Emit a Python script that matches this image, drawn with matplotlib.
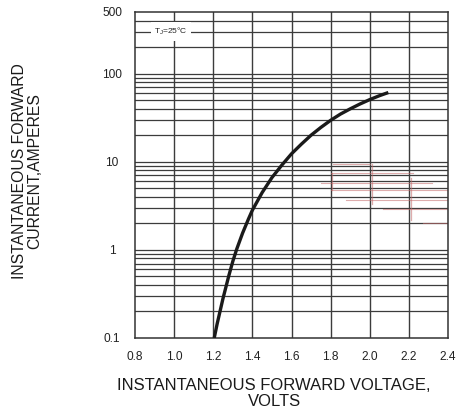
import matplotlib
matplotlib.use("Agg")
import matplotlib.pyplot as plt
from matplotlib.ticker import FixedLocator, NullFormatter

plt.rcParams['font.family'] = ['Liberation Sans', 'DejaVu Sans']

# Curve data
voltage = [1.205, 1.22, 1.25, 1.28, 1.30, 1.32, 1.35, 1.38, 1.40, 1.45, 1.50, 1.55,
           1.60, 1.65, 1.70, 1.75, 1.80, 1.85, 1.90, 1.95, 2.00, 2.05, 2.095]
current = [0.10, 0.145, 0.282, 0.513, 0.741, 1.02, 1.55, 2.24, 2.82, 4.47, 6.61, 9.12,
           12.3, 15.8, 20.0, 24.5, 29.5, 34.7, 39.8, 45.2, 50.7, 56.2, 61.0]

x_ticks = [0.8, 1.0, 1.2, 1.4, 1.6, 1.8, 2.0, 2.2, 2.4]
x_labels = ["0.8", "1.0", "1.2", "1.4", "1.6", "1.8", "2.0", "2.2", "2.4"]
y_ticks = [0.1, 1, 10, 100, 500]
y_labels = ["0.1", "1", "10", "100", "500"]
y_minor = [0.2, 0.3, 0.4, 0.5, 0.6, 0.7, 0.8, 0.9,
           2, 3, 4, 5, 6, 7, 8, 9,
           20, 30, 40, 50, 60, 70, 80, 90,
           200, 300, 400]

# faint red scan artefacts (horizontal: value, x start, x end)
red_h_val = [9.4, 7.5, 5.7, 4.8, 3.7, 2.9, 2.0]
red_h_x0 = [1.81, 1.80, 1.75, 1.80, 1.88, 2.07, 2.27]
red_h_x1 = [2.00, 2.22, 2.32, 2.40, 2.40, 2.40, 2.40]
# vertical: x, value low, value high
red_v_x = [1.806, 2.01, 2.21, 2.40, 2.40]
red_v_lo = [4.8, 3.3, 2.2, 1.6, 113]
red_v_hi = [7.5, 9.4, 6.5, 5.0, 167]

fig = plt.figure(figsize=(4.62, 4.16), dpi=100)
ax = fig.add_axes([135/462, 1-338/416, (448-135)/462, (338-12)/416])
ax.set_yscale('log')
ax.set_xlim(0.8, 2.4)
ax.set_ylim(0.1, 500)

grid_c = '#3c3c3c'
for xv in x_ticks[1:-1]:
    ax.axvline(xv, color=grid_c, lw=1.0, zorder=1)
for yv in y_ticks[1:-1] + y_minor:
    ax.axhline(yv, color=grid_c, lw=0.9, zorder=1)

for v, a, b in zip(red_h_val, red_h_x0, red_h_x1):
    ax.plot([a, b], [v, v], color='#c46a6a', lw=0.8, alpha=0.55, zorder=1.5)
for xv, lo, hi in zip(red_v_x, red_v_lo, red_v_hi):
    ax.plot([xv, xv], [lo, hi], color='#c46a6a', lw=0.9, alpha=0.55, zorder=1.5)

ax.plot(voltage, current, color='#1a1a1a', lw=2.4, zorder=3,
        solid_capstyle='butt', solid_joinstyle='round')

ax.text(0.985, 300, "T$_\\mathregular{J}$=25°C", fontsize=6, ha='center', va='center',
        color='#222222', zorder=4,
        bbox=dict(facecolor='white', edgecolor='none', pad=2.5))

ax.xaxis.set_major_locator(FixedLocator(x_ticks))
ax.set_xticklabels(x_labels)
ax.yaxis.set_major_locator(FixedLocator(y_ticks))
ax.set_yticklabels(y_labels, ha='center')
ax.yaxis.set_minor_locator(FixedLocator(y_minor))
ax.yaxis.set_minor_formatter(NullFormatter())
ax.tick_params(which='both', length=0, labelsize=8.6, colors='#222222')
ax.tick_params(axis='x', pad=9)
ax.tick_params(axis='y', pad=16.5)
for s in ax.spines.values():
    s.set_color('#333333')
    s.set_linewidth(1.1)

fig.text(274/462, 1-393.5/416, "INSTANTANEOUS FORWARD VOLTAGE,\nVOLTS", ha='center', va='center',
         fontsize=12, color='#1a1a1a', linespacing=1.15)
fig.text(27/462, 1-171/416, "INSTANTANEOUS FORWARD\nCURRENT,AMPERES", ha='center', va='center',
         rotation=90, fontsize=11.3, color='#1a1a1a', linespacing=1.0)

fig.savefig("out.png", dpi=100)
